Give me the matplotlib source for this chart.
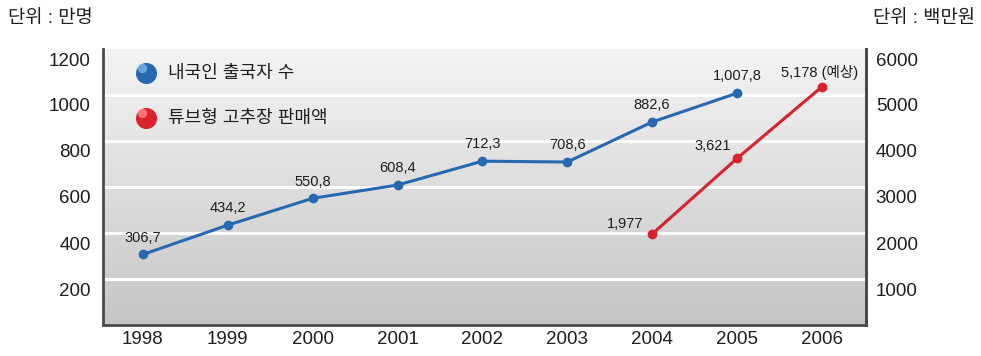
import numpy as np
import matplotlib
matplotlib.use("Agg")
import matplotlib.pyplot as plt
import matplotlib.transforms as mtransforms

plt.rcParams['font.family'] = ['Liberation Sans', 'Noto Sans CJK KR', 'DejaVu Sans']

# data
years = [1998, 1999, 2000, 2001, 2002, 2003, 2004, 2005, 2006]
travel_years = years[:8]
travel = [306.7, 434.2, 550.8, 608.4, 712.3, 708.6, 882.6, 1007.8]
travel_labels = ['306,7', '434,2', '550,8', '608,4', '712,3', '708,6', '882,6', '1,007,8']
sales_years = [2004, 2005, 2006]
sales = [1977, 3621, 5178]
sales_labels = ['1,977', '3,621', '5,178 (예상)']
left_ticks = [200, 400, 600, 800, 1000, 1200]
right_ticks = [1000, 2000, 3000, 4000, 5000, 6000]
legend_names = ['내국인 출국자 수', '튜브형 고추장 판매액']

blue = '#2769b0'
red = '#d8222c'
txt = '#1e1e1e'
spine_c = '#4a4a4a'

fig = plt.figure(figsize=(9.81, 3.56), dpi=100)
ax = fig.add_axes([103/981, 1-325/356, (866-103)/981, (325-49)/356])
ax.set_xlim(1997.53, 2006.52)
ax.set_ylim(0, 1200)

# gray gradient background with white grid lines
grad = np.linspace(0, 1, 256).reshape(-1, 1)
cmap = matplotlib.colors.LinearSegmentedColormap.from_list('g', ['#c6c6c6', '#f4f4f4'])
ax.imshow(grad, extent=[1997.53, 2006.52, 0, 1200], aspect='auto',
          cmap=cmap, origin='lower', zorder=0)
for v in left_ticks[:-1]:
    ax.axhline(v, color='white', lw=2.2, zorder=1)

ax.plot(travel_years, travel, color=blue, lw=2.2, marker='o', ms=6, zorder=3)
for x, y, s in zip(travel_years, travel, travel_labels):
    ax.annotate(s, (x, y), xytext=(0, 7), textcoords='offset points',
                ha='center', va='bottom', fontsize=10.5, color=txt, zorder=4)

ax.set_xticks(years)
ax.set_xticklabels([str(y) for y in years])
ax.set_yticks(left_ticks)
ax.tick_params(axis='both', length=0, labelsize=13.5, colors=txt)
ax.tick_params(axis='y', pad=9)
ax.tick_params(axis='x', pad=4)
off = mtransforms.ScaledTranslation(0, -10/100, fig.dpi_scale_trans)
for lab in ax.get_yticklabels():
    lab.set_transform(lab.get_transform() + off)

ax.spines['top'].set_visible(False)
for side in ['left', 'bottom', 'right']:
    ax.spines[side].set_color(spine_c)
    ax.spines[side].set_linewidth(2)

ax2 = ax.twinx()
ax2.set_ylim(0, 6000)
ax2.plot(sales_years, sales, color=red, lw=2.2, marker='o', ms=6, zorder=3)
offsets = [(-6, 2, 'right', 'bottom'), (-4, 4, 'right', 'bottom'), (-2, 5, 'center', 'bottom')]
for x, y, s, (dx, dy, ha, va) in zip(sales_years, sales, sales_labels, offsets):
    ax2.annotate(s, (x, y), xytext=(dx, dy), textcoords='offset points',
                 ha=ha, va=va, fontsize=10.5, color=txt)
ax2.set_yticks(right_ticks)
ax2.tick_params(axis='y', length=0, labelsize=13.5, colors=txt, pad=7)
for lab in ax2.get_yticklabels():
    lab.set_transform(lab.get_transform() + off)
for side in ['top', 'left', 'bottom']:
    ax2.spines[side].set_visible(False)
ax2.spines['right'].set_color(spine_c)
ax2.spines['right'].set_linewidth(2)

# legend with sphere-like markers
for i, (name, c, hl) in enumerate(zip(legend_names, [blue, red], ['#7fb3e8', '#ff8a8a'])):
    yy = 0.913 - i * 0.163
    ax.scatter([0.056], [yy], s=200, color=c, transform=ax.transAxes, zorder=5)
    ax.scatter([0.051], [yy + 0.018], s=45, color=hl, alpha=0.8, transform=ax.transAxes,
               zorder=6, linewidths=0)
    ax.text(0.085, yy, name, transform=ax.transAxes, fontsize=13, color=txt,
            va='center', ha='left', zorder=6)

fig.text(8/981, 1-18/356, '단위 : 만명', fontsize=13.5, color=txt, ha='left', va='center',
         fontweight='medium')
fig.text(975/981, 1-18/356, '단위 : 백만원', fontsize=13.5, color=txt, ha='right', va='center',
         fontweight='medium')

fig.savefig('out.png', dpi=100)
